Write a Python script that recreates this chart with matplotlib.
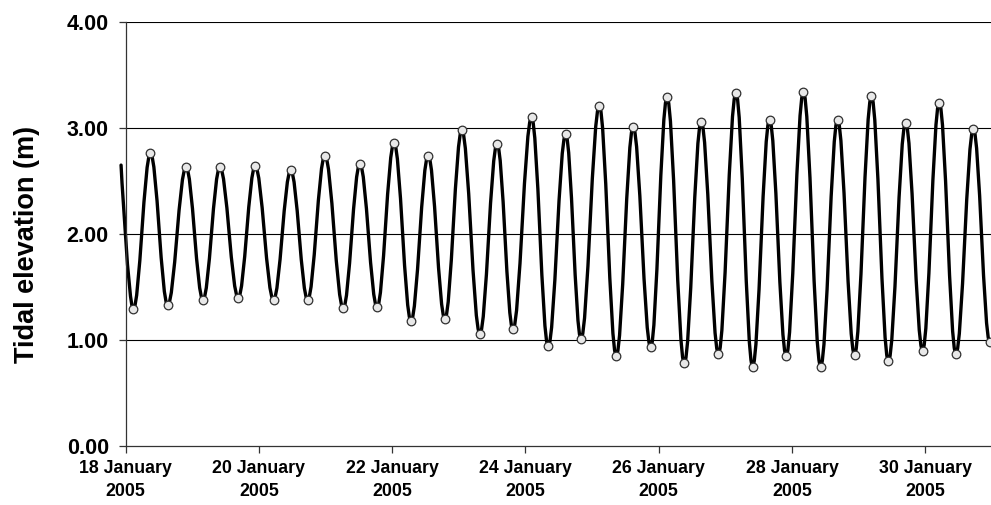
import matplotlib
matplotlib.use("Agg")
import matplotlib.pyplot as plt
import matplotlib.dates as mdates
from matplotlib.path import Path
from matplotlib.patches import PathPatch
from datetime import datetime

plt.rcParams['font.family'] = ['Liberation Sans', 'DejaVu Sans']

# Tide extremes: hours after 18 January 2005 00:00, and elevation (m)
curve_start_hour = -1.6
curve_start_level = 2.65

extreme_hours = [2.8, 9.0, 15.2, 21.8, 27.9, 34.0, 40.6, 46.7, 53.3, 59.5,
                 65.6, 71.8, 78.4, 84.4, 90.6, 96.7, 102.8, 109.0, 115.0, 121.1,
                 127.6, 133.8, 139.5, 146.2, 152.2, 158.5, 164.0, 170.6, 176.7, 182.8,
                 189.1, 195.0, 201.2, 207.3, 213.5, 219.8, 225.8, 231.9, 237.9, 244.1,
                 250.3, 256.4, 262.5, 268.6, 274.7, 280.9, 287.0, 293.0, 299.0, 305.3,
                 311.2]
extreme_levels = [1.29, 2.76, 1.33, 2.63, 1.38, 2.63, 1.40, 2.64, 1.38, 2.60,
                  1.38, 2.74, 1.30, 2.66, 1.31, 2.86, 1.18, 2.74, 1.20, 2.98,
                  1.06, 2.85, 1.10, 3.10, 0.94, 2.94, 1.01, 3.21, 0.85, 3.01,
                  0.93, 3.29, 0.78, 3.06, 0.87, 3.33, 0.75, 3.08, 0.85, 3.34,
                  0.75, 3.08, 0.86, 3.30, 0.80, 3.05, 0.90, 3.24, 0.87, 2.99,
                  0.98]

y_ticks = [0.0, 1.0, 2.0, 3.0, 4.0]
x_tick_dates = [datetime(2005, 1, d) for d in (18, 20, 22, 24, 26, 28, 30)]
x_start = datetime(2005, 1, 18)
x_end = datetime(2005, 1, 31)

base = mdates.date2num(x_start)
xs = [base + h / 24.0 for h in extreme_hours]
x0 = base + curve_start_hour / 24.0

fig = plt.figure(figsize=(9.91, 5.05), dpi=100)
ax = fig.add_axes([125.5 / 991, 1 - 446 / 505, (992 - 125.5) / 991, (446 - 22) / 505])

# smooth tide curve through the extremes (cubic Bezier, horizontal tangents at extremes)
k = 0.363
verts = [(x0, curve_start_level)]
codes = [Path.MOVETO]
px, py = x0, curve_start_level
first = True
for x, y in zip(xs, extreme_levels):
    dx = x - px
    if first:
        c1 = (px, py)
        first = False
    else:
        c1 = (px + k * dx, py)
    c2 = (x - k * dx, y)
    verts += [c1, c2, (x, y)]
    codes += [Path.CURVE4] * 3
    px, py = x, y
patch = PathPatch(Path(verts, codes), fill=False, edgecolor='black', lw=2.4,
                  capstyle='round', joinstyle='round', zorder=2, clip_on=False)
ax.add_patch(patch)

ax.plot(xs, extreme_levels, 'o', ms=6.2, mfc='#e8e8e8', mec='#303030', mew=0.9,
        zorder=3, clip_on=False)

ax.set_xlim(mdates.date2num(x_start), mdates.date2num(x_end))
ax.set_ylim(0, 4)
ax.set_yticks(y_ticks)
ax.yaxis.set_major_formatter(matplotlib.ticker.FormatStrFormatter('%.2f'))
ax.set_xticks([mdates.date2num(d) for d in x_tick_dates])
ax.xaxis.set_major_formatter(mdates.DateFormatter('%d January\n%Y'))

for y in y_ticks[1:]:
    ax.axhline(y, color='black', lw=0.8, zorder=1)

for s in ['top', 'right']:
    ax.spines[s].set_visible(False)
for s in ['left', 'bottom']:
    ax.spines[s].set_color('#333333')
    ax.spines[s].set_linewidth(0.9)

ax.tick_params(axis='both', direction='out', length=5, width=0.9, color='#333333')
ax.tick_params(axis='y', pad=7)
ax.tick_params(axis='x', pad=5)
for lab in ax.get_yticklabels():
    lab.set_fontsize(15.5)
    lab.set_fontweight('bold')
for lab in ax.get_xticklabels():
    lab.set_fontsize(12.8)
    lab.set_fontweight('bold')
    lab.set_horizontalalignment('center')
    lab.set_multialignment('center')
    lab.set_linespacing(1.45)

ax.set_ylabel('Tidal elevation (m)', fontsize=19.5, fontweight='bold')
ax.yaxis.set_label_coords(-85 / 866.5, 0.475)

fig.savefig('out.png', dpi=100)
